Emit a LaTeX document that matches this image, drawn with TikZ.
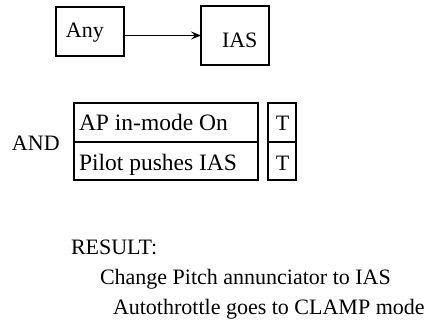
\documentclass[tikz,border=0pt]{standalone}
\usepackage{fontspec}
\setmainfont{Liberation Serif}
\usetikzlibrary{arrows.meta}
\tikzset{
  box/.style={draw, line width=1.3pt, inner sep=0pt, outer sep=0pt, rectangle},
  txt/.style={inner sep=0pt, outer sep=0pt, font=\fontsize{22}{26}\selectfont},
  rowtxt/.style={txt, font=\fontsize{23.5}{27}\selectfont},
  conn/.style={line width=1.2pt, -{Stealth[length=10pt,width=8pt,inset=4pt]}}
}
\begin{document}
\begin{tikzpicture}[x=1pt,y=-1pt]
\useasboundingbox (0,0) rectangle (432,322);
% top boxes
\node[box, minimum width=68pt, minimum height=49pt] (any) at (90,31.5) {};
\node[txt, anchor=base west] (anyt) at (66,37) {Any};
\node[box, minimum width=68pt, minimum height=59pt] (ias) at (235,35.5) {};
\node[txt, anchor=base west] (iast) at (222,47) {IAS};
\draw[conn] (any.east |- ias.west) -- (ias.west);
% AND table
\node[txt, anchor=base west] (and) at (12,150) {AND};
\node[box, minimum width=184pt, minimum height=39pt] (r1) at (166,122.5) {};
\node[box, minimum width=184pt, minimum height=38pt] (r2) at (166,161) {};
\node[rowtxt, anchor=base west] (r1t) at (79,130) {AP in-mode On};
\node[rowtxt, anchor=base west] (r2t) at (79,170) {Pilot pushes IAS};
\node[box, minimum width=28pt, minimum height=39pt] (t1) at (282,122.5) {};
\node[box, minimum width=28pt, minimum height=38pt] (t2) at (282,161) {};
\node[txt, anchor=base] (t1t) at (282.5,130) {T};
\node[txt, anchor=base] (t2t) at (282.5,170) {T};
% result
\node[txt, anchor=base west] (res) at (71,254) {RESULT:};
\node[txt, anchor=base west] (res1) at (100,284) {Change Pitch annunciator to IAS};
\node[txt, anchor=base west] (res2) at (113,314) {Autothrottle goes to CLAMP mode};
\end{tikzpicture}
\end{document}
